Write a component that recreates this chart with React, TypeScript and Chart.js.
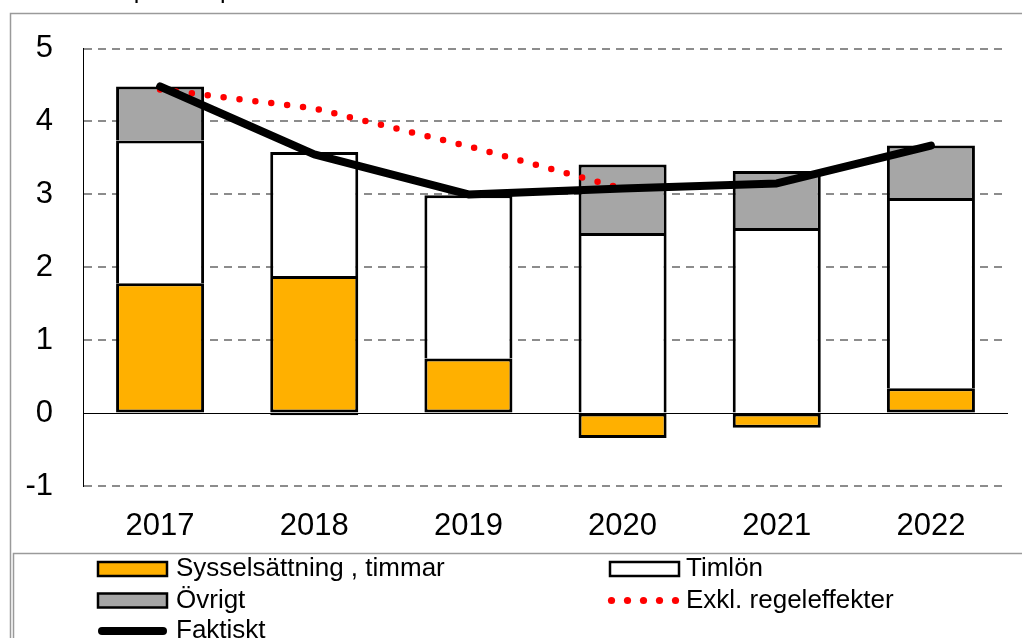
import React, { useEffect, useRef } from "react";
import { Chart, registerables } from "chart.js";

Chart.register(...registerables);

// ---- data ----
const categories = ["2017", "2018", "2019", "2020", "2021", "2022"];
const sysselsattning = [1.78, 1.88, 0.75, -0.34, -0.2, 0.34];
const timlon = [1.96, 1.7, 2.24, 2.47, 2.54, 2.61];
const ovrigt = [0.74, -0.03, 0, 0.94, 0.78, 0.72];
const faktiskt = [4.48, 3.55, 3.0, 3.08, 3.15, 3.67];
const exklRegeleffekter = [4.44, 4.18, 3.66, 3.08, 3.15, 3.67];
const yMin = -1;
const yMax = 5;
const topNote = "Procent respektive procentenheter";

const FONT = "Arial, 'Liberation Sans', sans-serif";

// legend slots: dataset index + layout position
const legendSlots = [
  { ds: 0, x: 98, y: 569, tx: 176 },
  { ds: 1, x: 610, y: 569, tx: 686 },
  { ds: 2, x: 98, y: 600.5, tx: 176 },
  { ds: 4, x: 610, y: 600.5, tx: 686 },
  { ds: 3, x: 98, y: 631, tx: 176 },
];

const framePlugin = {
  id: "frame",
  beforeDraw(chart: any) {
    const ctx = chart.ctx;
    ctx.save();
    ctx.fillStyle = "#fff";
    ctx.fillRect(0, 0, chart.width, chart.height);
    ctx.strokeStyle = "#9a9a9a";
    ctx.lineWidth = 1.5;
    ctx.beginPath();
    ctx.moveTo(10.5, chart.height + 2);
    ctx.lineTo(10.5, 13.5);
    ctx.lineTo(chart.width + 2, 13.5);
    ctx.stroke();
    ctx.beginPath();
    ctx.moveTo(13.5, chart.height + 2);
    ctx.lineTo(13.5, 553.5);
    ctx.lineTo(chart.width + 2, 553.5);
    ctx.stroke();
    ctx.fillStyle = "#000";
    ctx.font = `25px ${FONT}`;
    ctx.textBaseline = "alphabetic";
    ctx.textAlign = "left";
    ctx.fillText(topNote, 6, -2);
    ctx.restore();
  },
};

const legendPlugin = {
  id: "customLegend",
  afterDraw(chart: any) {
    const ctx = chart.ctx;
    const dss = chart.data.datasets;
    ctx.save();
    for (const s of legendSlots) {
      const d: any = dss[s.ds];
      if (d.type === "line") {
        if (d.borderDash && d.borderDash.length) {
          ctx.fillStyle = d.borderColor;
          for (let i = 0; i < 5; i++) {
            ctx.beginPath();
            ctx.arc(s.x + 1.5 + i * 16, s.y, 3.6, 0, Math.PI * 2);
            ctx.fill();
          }
        } else {
          ctx.strokeStyle = d.borderColor;
          ctx.lineWidth = d.borderWidth;
          ctx.lineCap = "round";
          ctx.beginPath();
          ctx.moveTo(s.x + 4, s.y);
          ctx.lineTo(s.x + 65, s.y);
          ctx.stroke();
        }
      } else {
        ctx.fillStyle = d.backgroundColor;
        ctx.fillRect(s.x, s.y - 7, 69, 14);
        ctx.strokeStyle = "#000";
        ctx.lineWidth = 2.5;
        ctx.strokeRect(s.x, s.y - 7, 69, 14);
      }
      ctx.fillStyle = "#000";
      ctx.font = `26px ${FONT}`;
      ctx.textBaseline = "alphabetic";
      ctx.textAlign = "left";
      ctx.fillText(d.label, s.tx, s.y + 7);
    }
    ctx.restore();
  },
};

export default function App() {
  const ref = useRef<HTMLCanvasElement | null>(null);

  useEffect(() => {
    if (!ref.current) return;
    const barCommon = {
      borderColor: "#000",
      borderWidth: 3,
      barPercentage: 0.571,
      categoryPercentage: 1,
      order: 2,
    };
    const chart = new Chart(ref.current, {
      type: "bar",
      data: {
        labels: categories,
        datasets: [
          {
            ...barCommon,
            label: "Sysselsättning , timmar",
            data: sysselsattning,
            backgroundColor: "#FFB000",
            borderSkipped: false,
          } as any,
          {
            ...barCommon,
            label: "Timlön",
            data: timlon,
            backgroundColor: "#FFFFFF",
            borderSkipped: "start",
          } as any,
          {
            ...barCommon,
            label: "Övrigt",
            data: ovrigt,
            backgroundColor: "#A6A6A6",
            borderSkipped: (c: any) => (c.raw < 0 ? false : "start"),
          } as any,
          {
            type: "line",
            label: "Faktiskt",
            data: faktiskt,
            stack: "faktiskt",
            borderColor: "#000",
            borderWidth: 8,
            borderCapStyle: "round",
            borderJoinStyle: "round",
            pointRadius: 0,
            tension: 0,
            fill: false,
            order: 0,
          } as any,
          {
            type: "line",
            label: "Exkl. regeleffekter",
            data: exklRegeleffekter,
            stack: "exkl",
            borderColor: "#FF0000",
            borderWidth: 6.5,
            borderDash: [0, 16],
            borderCapStyle: "round",
            pointRadius: 0,
            tension: 0,
            fill: false,
            order: 1,
          } as any,
        ],
      },
      options: {
        responsive: false,
        animation: false,
        layout: { padding: { left: 0, right: 14, top: 44, bottom: 85 } },
        plugins: { legend: { display: false }, tooltip: { enabled: false } },
        scales: {
          x: {
            stacked: true,
            grid: { display: false },
            border: { display: false },
            ticks: { font: { size: 31, family: FONT }, color: "#000", padding: 14 },
            afterFit: (s: any) => {
              s.height = 67;
            },
          },
          y: {
            stacked: true,
            min: yMin,
            max: yMax,
            ticks: {
              stepSize: 1,
              font: { size: 31, family: FONT },
              color: "#000",
              padding: 30,
            },
            grid: {
              drawTicks: false,
              color: (c: any) => (c.tick && c.tick.value === 0 ? "#000" : "#8c8c8c"),
              lineWidth: (c: any) => (c.tick && c.tick.value === 0 ? 1 : 2),
            },
            border: {
              display: true,
              color: "#000",
              width: 1,
              dash: (c: any) => (!c.tick || c.tick.value === 0 ? [] : [8, 6]),
            },
            afterFit: (s: any) => {
              s.width = 83;
            },
          },
        } as any,
      },
      plugins: [framePlugin, legendPlugin],
    });
    return () => chart.destroy();
  }, []);

  return (
    <div style={{ position: "absolute", left: 0, top: 0, width: 1022, height: 638 }}>
      <canvas ref={ref} width={1022} height={638} />
    </div>
  );
}
